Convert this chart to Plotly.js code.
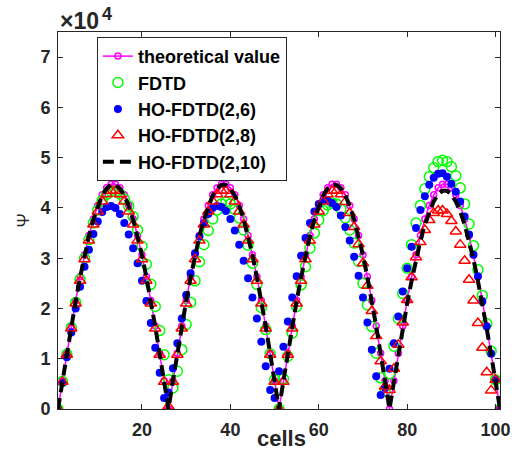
<!DOCTYPE html>
<html>
<head>
<meta charset="utf-8">
<script src="https://cdn.plot.ly/plotly-3.0.1.min.js"></script>
<style>html,body{margin:0;padding:0;background:#fff;}#chart{width:515px;height:451px;}</style>
</head>
<body>
<div id="chart"></div>
<script>
// cell index
const cells = [1,2,3,4,5,6,7,8,9,10,11,12,13,14,15,16,17,18,19,20,21,22,23,24,25,
26,27,28,29,30,31,32,33,34,35,36,37,38,39,40,41,42,43,44,45,46,47,48,49,50,
51,52,53,54,55,56,57,58,59,60,61,62,63,64,65,66,67,68,69,70,71,72,73,74,75,
76,77,78,79,80,81,82,83,84,85,86,87,88,89,90,91,92,93,94,95,96,97,98,99,100,101];

// values in units of 1e4 (axis shows x10^4)
const theoretical = [0,0.56,1.11,1.65,2.16,2.63,3.07,3.45,3.78,4.05,4.26,4.40,4.47,4.47,4.40,4.26,4.05,3.78,3.45,3.07,2.63,2.16,1.65,1.11,0.56,
0,0.56,1.11,1.65,2.16,2.63,3.07,3.45,3.78,4.05,4.26,4.40,4.47,4.47,4.40,4.26,4.05,3.78,3.45,3.07,2.63,2.16,1.65,1.11,0.56,
0,0.56,1.11,1.65,2.16,2.63,3.07,3.45,3.78,4.05,4.26,4.40,4.47,4.47,4.40,4.26,4.05,3.78,3.45,3.07,2.63,2.16,1.65,1.11,0.56,
0,0.56,1.11,1.65,2.16,2.63,3.07,3.45,3.78,4.05,4.26,4.40,4.47,4.47,4.40,4.26,4.05,3.78,3.45,3.07,2.63,2.16,1.65,1.11,0.56,0];

const fdtd = [0,0.55,1.09,1.62,2.12,2.58,3.00,3.37,3.70,3.96,4.15,4.27,4.33,4.33,4.28,4.18,4.04,3.83,3.56,3.24,2.88,2.48,2.04,1.56,1.08,
0.58,0.42,0.75,1.18,1.68,2.12,2.55,2.93,3.27,3.55,3.78,3.96,4.08,4.12,4.08,3.97,3.80,3.56,3.26,2.90,2.48,2.02,1.58,1.10,0.58,
0,0.60,1.05,1.51,2.04,2.47,2.83,3.20,3.50,3.76,3.95,4.06,4.10,4.08,3.98,3.80,3.56,3.30,2.94,2.50,2.07,1.64,1.11,0.62,0.35,
0.70,1.25,1.80,2.30,2.80,3.27,3.70,4.05,4.38,4.62,4.80,4.92,4.95,4.92,4.82,4.64,4.40,4.08,3.68,3.25,2.77,2.26,1.70,1.15,0.58,0];

const ho26 = [0,0.52,1.03,1.52,2.00,2.43,2.83,3.17,3.48,3.73,3.92,4.02,4.04,4.00,3.88,3.70,3.47,3.20,2.90,2.55,2.15,1.71,1.22,0.72,0.22,
0.33,0.81,1.31,1.80,2.27,2.70,3.10,3.43,3.70,3.88,4.00,4.04,4.02,3.94,3.78,3.55,3.27,2.95,2.60,2.22,1.80,1.34,0.85,0.38,0.22,
0.75,1.24,1.74,2.22,2.64,3.05,3.40,3.70,3.93,4.08,4.15,4.15,4.10,4.02,3.85,3.62,3.35,3.03,2.65,2.22,1.72,1.18,0.65,0.28,0.42,
0.80,1.31,1.84,2.34,2.80,3.23,3.60,3.96,4.23,4.46,4.60,4.68,4.69,4.62,4.48,4.32,4.13,3.83,3.47,3.07,2.64,2.14,1.64,1.10,0.58,0];

const ho28 = [0,0.54,1.08,1.60,2.10,2.55,2.98,3.35,3.67,3.93,4.13,4.27,4.34,4.34,4.27,4.13,3.93,3.67,3.35,2.98,2.55,2.10,1.60,1.08,0.54,
0.05,0.54,1.08,1.60,2.10,2.55,2.98,3.35,3.67,3.93,4.13,4.27,4.34,4.34,4.27,4.13,3.93,3.67,3.35,2.98,2.55,2.10,1.60,1.08,0.54,
0,0.54,1.08,1.60,2.10,2.55,2.98,3.35,3.67,3.93,4.13,4.27,4.34,4.34,4.27,4.12,3.90,3.62,3.28,2.90,2.45,1.95,1.45,0.95,0.45,
0.38,0.80,1.28,1.72,2.17,2.62,3.02,3.32,3.56,3.76,3.90,3.95,3.95,3.88,3.74,3.53,3.27,2.95,2.57,2.16,1.71,1.22,0.73,0.37,0.58,0];

const ho210 = [0,0.56,1.11,1.64,2.15,2.62,3.06,3.44,3.77,4.04,4.25,4.39,4.46,4.46,4.39,4.25,4.04,3.77,3.44,3.06,2.62,2.15,1.64,1.10,0.55,
0,0.56,1.11,1.64,2.15,2.62,3.06,3.44,3.77,4.04,4.25,4.39,4.46,4.46,4.39,4.25,4.04,3.77,3.44,3.06,2.62,2.15,1.64,1.10,0.55,
0,0.56,1.11,1.64,2.15,2.62,3.06,3.44,3.77,4.04,4.25,4.39,4.46,4.46,4.39,4.25,4.04,3.77,3.44,3.06,2.62,2.15,1.64,1.10,0.55,
0,0.54,1.08,1.60,2.10,2.55,2.98,3.35,3.67,3.93,4.13,4.27,4.34,4.34,4.27,4.13,3.93,3.67,3.35,2.98,2.55,2.10,1.60,1.08,0.54,0];

const seriesNames = ['theoretical value','FDTD','HO-FDTD(2,6)','HO-FDTD(2,8)','HO-FDTD(2,10)'];
const xTicks = [20,40,60,80,100];
const yTicks = [0,1,2,3,4,5,6,7];

const FONT = 'Liberation Sans, Arial, sans-serif';
const AX = '#262626';

const traces = [
  {x: cells, y: theoretical, name: seriesNames[0], type:'scatter', mode:'lines+markers',
   line:{color:'#ff00ff', width:1.5},
   marker:{symbol:'circle-open', size:6, color:'#ff00ff', line:{width:1.5}}},
  {x: cells, y: fdtd, name: seriesNames[1], type:'scatter', mode:'markers',
   marker:{symbol:'circle-open', size:10, color:'#00ff00', line:{width:1.5}}},
  {x: cells, y: ho26, name: seriesNames[2], type:'scatter', mode:'markers',
   marker:{symbol:'circle', size:8, color:'#0000ff'}},
  {x: cells, y: ho28, name: seriesNames[3], type:'scatter', mode:'markers',
   marker:{symbol:'triangle-up-open', size:10, color:'#ff0000', line:{width:1.5}}},
  {x: cells, y: ho210, name: seriesNames[4], type:'scatter', mode:'lines',
   line:{color:'#000000', width:4, dash:'11px,6px'}}
];

const axisCommon = {
  showgrid:false, zeroline:false, showline:true, linecolor:AX, linewidth:1,
  mirror:'ticks', ticks:'inside', ticklen:5, tickwidth:1, tickcolor:AX,
  tickfont:{family:FONT, size:18, color:AX, weight:'bold'}
};

const layout = {
  width:515, height:451,
  margin:{l:58, r:15, t:32, b:42},
  paper_bgcolor:'#ffffff', plot_bgcolor:'#ffffff',
  showlegend:true,
  legend:{x:0.088, y:0.987, xanchor:'left', yanchor:'top',
    bgcolor:'#ffffff', bordercolor:AX, borderwidth:1,
    font:{family:FONT, size:18, color:'#000000', weight:'bold'}},
  xaxis: Object.assign({}, axisCommon, {range:[1,101], tickmode:'array', tickvals:xTicks,
    ticklabelstandoff:4}),
  yaxis: Object.assign({}, axisCommon, {range:[0,7.5], tickmode:'array', tickvals:yTicks,
    ticklabelstandoff:3,
    title:{text:'Ψ', font:{family:FONT, size:17, color:AX}, standoff:6}}),
  annotations:[
    {text:'cells', xref:'paper', yref:'paper', x:0.505, y:-0.077, xanchor:'center', yanchor:'middle',
     showarrow:false, font:{family:FONT, size:22, color:AX, weight:'bold'}},
    {text:'×10', xref:'paper', yref:'paper', x:0.0, y:1.03, xanchor:'left', yanchor:'middle',
     showarrow:false, font:{family:FONT, size:23, color:AX, weight:'bold'}},
    {text:'4', xref:'paper', yref:'paper', x:0.096, y:1.048, xanchor:'left', yanchor:'middle',
     showarrow:false, font:{family:FONT, size:18, color:AX, weight:'bold'}}
  ]
};

Plotly.newPlot('chart', traces, layout, {displayModeBar:false, staticPlot:true});
</script>
</body>
</html>
